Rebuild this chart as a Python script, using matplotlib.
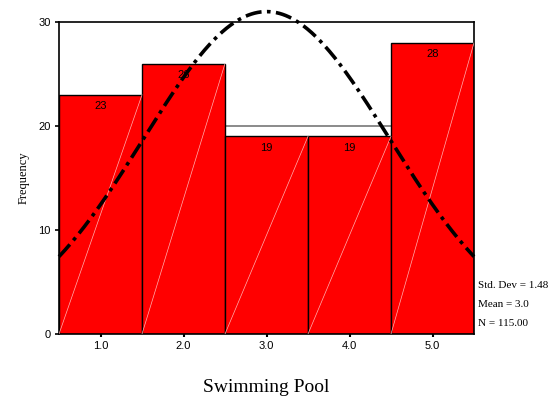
import numpy as np
import matplotlib
matplotlib.use("Agg")
import matplotlib.pyplot as plt

categories = [1.0, 2.0, 3.0, 4.0, 5.0]
counts = [23, 26, 19, 19, 28]
xtick_labels = ["1.0", "2.0", "3.0", "4.0", "5.0"]
yticks = [0, 10, 20, 30]
std_dev = 1.48
mean = 3.0
n_total = 115
stats_lines = ["Std. Dev = 1.48", "Mean = 3.0", "N = 115.00"]

fig = plt.figure(figsize=(5.5, 4.0), dpi=100)
ax = fig.add_axes([59/550, 1-334/400, (474-59)/550, (334-22)/400])

width = 1.0
ax.bar(categories, counts, width=width, color="#ff0000", edgecolor="black", linewidth=1.0, zorder=2)
# thin diagonal highlight lines in each bar
for c, h in zip(categories, counts):
    ax.plot([c - width/2, c + width/2], [0, h], color="#ffb0b0", lw=0.5, zorder=3)
# gray line artifact above the two 19-bars
ax.plot([categories[2] - width/2, categories[3] + width/2], [20, 20], color="#777777", lw=1.2, zorder=1)

for c, h in zip(categories, counts):
    ax.text(c, h - 0.6, str(h), ha="center", va="top", fontsize=8, family="Liberation Sans", zorder=4)

# normal curve
xs = np.linspace(0.5, 5.5, 400)
ys = n_total * width / (std_dev * np.sqrt(2*np.pi)) * np.exp(-0.5*((xs-mean)/std_dev)**2)
ax.plot(xs, ys, color="black", lw=2.6, linestyle=(0, (4.5, 1.5, 1, 1.5)), clip_on=False, zorder=5)

ax.set_xlim(0.5, 5.5)
ax.set_ylim(0, 30)
ax.set_xticks(categories)
ax.set_xticklabels(xtick_labels, family="Liberation Sans", fontsize=8)
ax.set_yticks(yticks)
ax.set_yticklabels([str(v) for v in yticks], family="Liberation Sans", fontsize=8)
ax.tick_params(axis="x", length=2, width=1.5, pad=3)
ax.tick_params(axis="y", length=3, width=1.2, pad=3)
for s in ax.spines.values():
    s.set_linewidth(1.2)

ax.set_ylabel("Frequency", family="Liberation Serif", fontsize=9, labelpad=6)
ax.set_xlabel("Swimming Pool", family="Liberation Serif", fontsize=14, labelpad=20)

for i, line in enumerate(stats_lines):
    fig.text(478/550, 1 - (285 + i*19.5)/400, line, family="Liberation Serif", fontsize=8, va="center", ha="left")

fig.savefig("out.png", dpi=100)
